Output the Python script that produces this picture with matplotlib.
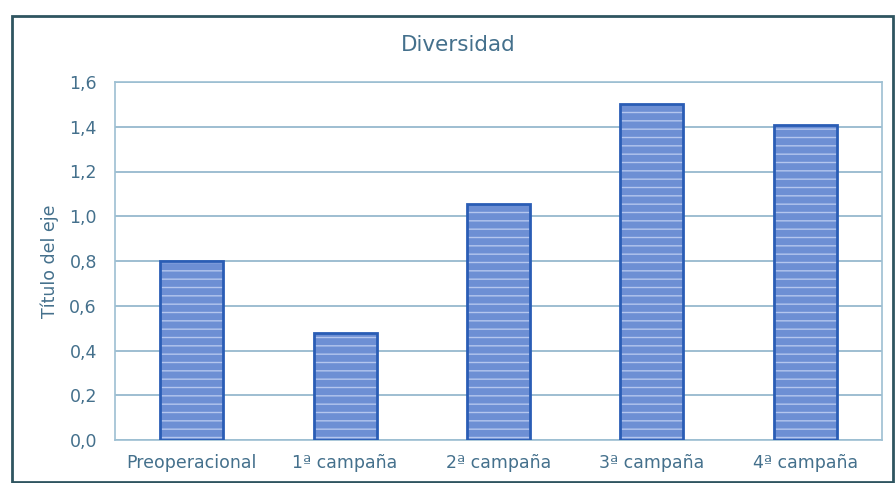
import numpy as np
import matplotlib
matplotlib.use("Agg")
import matplotlib.pyplot as plt
from matplotlib.patches import Rectangle

# Data
categories = ["Preoperacional", "1ª campaña", "2ª campaña", "3ª campaña", "4ª campaña"]
values = [0.80, 0.48, 1.055, 1.50, 1.41]
yticks = [0.0, 0.2, 0.4, 0.6, 0.8, 1.0, 1.2, 1.4, 1.6]
ytick_labels = ["0,0", "0,2", "0,4", "0,6", "0,8", "1,0", "1,2", "1,4", "1,6"]

plt.rcParams["font.family"] = ["DejaVu Sans"]
txt = "#44708c"

fig = plt.figure(figsize=(8.96, 4.83), dpi=100)
ax = fig.add_axes([115 / 896, 1 - 440 / 483, 767 / 896, 358 / 483])

# Outer chart border
fig.patches.append(Rectangle((12 / 896, 1.5 / 483), 881 / 896, 466 / 483,
                             transform=fig.transFigure, fill=False,
                             edgecolor="#2f5560", linewidth=2))

x = np.arange(len(categories))
w = 0.41
# striped fill, then dark outline
ax.bar(x, values, width=w, color="#6d8fd4", edgecolor="#b4c6ee",
       hatch="--", linewidth=0, zorder=3)
ax.bar(x, values, width=w, fill=False, edgecolor="#2a5db5",
       linewidth=2, zorder=4)

ax.set_xlim(-0.5, len(categories) - 0.5)
ax.set_ylim(0, 1.6)
ax.set_yticks(yticks)
ax.set_yticklabels(ytick_labels)
ax.set_xticks(x)
ax.set_xticklabels(categories)

ax.yaxis.grid(True, color="#8db3c9", linewidth=1.2, zorder=0)
for s in ax.spines.values():
    s.set_color("#9dbfd2")
    s.set_linewidth(1.2)
ax.tick_params(length=0, labelsize=12.5, colors=txt, pad=10)
ax.tick_params(axis="y", pad=13)

ax.set_ylabel("Título del eje", fontsize=12.5, color=txt)
ax.yaxis.set_label_coords(-0.073, 0.5)
fig.text(458 / 896, 1 - 45 / 483, "Diversidad", ha="center", va="center",
         fontsize=15.5, color=txt)

fig.savefig("out.png", dpi=100)
